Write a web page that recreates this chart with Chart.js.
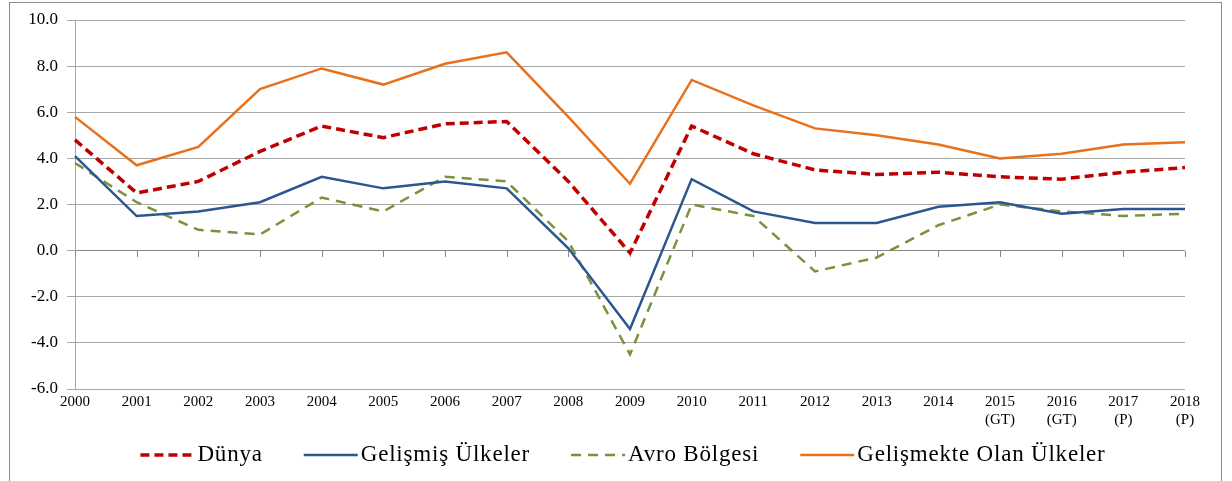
<!DOCTYPE html>
<html>
<head>
<meta charset="utf-8">
<script src="https://cdn.jsdelivr.net/npm/chart.js@4"></script>
<style>
  html, body { margin: 0; padding: 0; background: #fff; }
  #wrap { position: relative; width: 1232px; height: 481px; }
  #frame { position: absolute; left: 9px; top: 2px; width: 1211px; height: 490px; border: 1px solid #8c8c8c; pointer-events: none; }
</style>
</head>
<body>
<div id="wrap">
  <canvas id="myChart" width="1232" height="481"></canvas>
  <div id="frame"></div>
</div>
<script>
  // categories
  const years = ['2000', '2001', '2002', '2003', '2004', '2005', '2006', '2007', '2008', '2009',
    '2010', '2011', '2012', '2013', '2014', ['2015', '(GT)'], ['2016', '(GT)'], ['2017', '(P)'], ['2018', '(P)']];

  // series
  const dunya = [4.8, 2.5, 3.0, 4.3, 5.4, 4.9, 5.5, 5.6, 3.0, -0.1, 5.4, 4.2, 3.5, 3.3, 3.4, 3.2, 3.1, 3.4, 3.6];
  const gelismis = [4.1, 1.5, 1.7, 2.1, 3.2, 2.7, 3.0, 2.7, 0.1, -3.4, 3.1, 1.7, 1.2, 1.2, 1.9, 2.1, 1.6, 1.8, 1.8];
  const avro = [3.8, 2.1, 0.9, 0.7, 2.3, 1.7, 3.2, 3.0, 0.4, -4.5, 2.0, 1.5, -0.9, -0.3, 1.1, 2.0, 1.7, 1.5, 1.6];
  const gelismekte = [5.8, 3.7, 4.5, 7.0, 7.9, 7.2, 8.1, 8.6, 5.8, 2.9, 7.4, 6.3, 5.3, 5.0, 4.6, 4.0, 4.2, 4.6, 4.7];

  // y ticks
  const yTicks = [-6, -4, -2, 0, 2, 4, 6, 8, 10];

  const serif = "'Liberation Serif', 'Times New Roman', serif";

  // small tick marks on the zero line
  const zeroTicks = {
    id: 'zeroTicks',
    beforeDatasetsDraw(chart) {
      const ctx = chart.ctx;
      const x = chart.scales.x;
      const y0 = Math.round(chart.scales.y.getPixelForValue(0));
      ctx.save();
      ctx.strokeStyle = '#868686';
      ctx.lineWidth = 1;
      ctx.beginPath();
      for (let i = 0; i < years.length; i++) {
        const px = Math.round(x.getPixelForTick(i)) + 0.5;
        ctx.moveTo(px, y0);
        ctx.lineTo(px, y0 + 6);
      }
      ctx.stroke();
      ctx.restore();
    }
  };

  // legend drawn by hand so the dashes show in the samples
  const lineLegend = {
    id: 'lineLegend',
    afterDraw(chart) {
      const ctx = chart.ctx;
      const sets = chart.data.datasets;
      const sample = 54, gap = 3, spacing = 41, cy = 455;
      ctx.save();
      ctx.font = '23px ' + serif;
      ctx.letterSpacing = '0.8px';
      const widths = sets.map(d => sample + gap + ctx.measureText(d.label).width);
      const total = widths.reduce((a, b) => a + b, 0) + spacing * (sets.length - 1);
      let x = chart.width / 2 + 7 - total / 2;
      sets.forEach((d, i) => {
        ctx.strokeStyle = d.borderColor;
        ctx.lineWidth = d.borderWidth;
        ctx.setLineDash(d.borderDash || []);
        ctx.beginPath();
        ctx.moveTo(x, cy);
        ctx.lineTo(x + sample, cy);
        ctx.stroke();
        ctx.setLineDash([]);
        ctx.fillStyle = '#000';
        ctx.textBaseline = 'middle';
        ctx.fillText(d.label, x + sample + gap, cy);
        x += widths[i] + spacing;
      });
      ctx.restore();
    }
  };

  const data = {
    labels: years,
    datasets: [
      {
        label: 'Dünya',
        data: dunya,
        borderColor: '#C00000',
        backgroundColor: '#C00000',
        borderWidth: 3.5,
        borderDash: [9, 5],
      },
      {
        label: 'Gelişmiş Ülkeler',
        data: gelismis,
        borderColor: '#2B5690',
        backgroundColor: '#2B5690',
        borderWidth: 2.5,
      },
      {
        label: 'Avro Bölgesi',
        data: avro,
        borderColor: '#77933C',
        backgroundColor: '#77933C',
        borderWidth: 2.5,
        borderDash: [10, 7],
      },
      {
        label: 'Gelişmekte Olan Ülkeler',
        data: gelismekte,
        borderColor: '#E8711C',
        backgroundColor: '#E8711C',
        borderWidth: 2.5,
      }
    ]
  };

  new Chart(document.getElementById('myChart'), {
    type: 'line',
    data,
    plugins: [zeroTicks, lineLegend],
    options: {
      responsive: false,
      animation: false,
      layout: { padding: { top: 20, left: 0, right: 47, bottom: 48 } },
      elements: {
        point: { radius: 0 },
        line: { tension: 0 }
      },
      scales: {
        x: {
          offset: false,
          grid: { display: false, drawTicks: false },
          border: { display: false },
          ticks: {
            color: '#000',
            font: { family: serif, size: 15 },
            maxRotation: 0,
            autoSkip: false,
            padding: 4
          }
        },
        y: {
          min: -6,
          max: 10,
          afterBuildTicks(scale) {
            scale.ticks = yTicks.map(v => ({ value: v }));
          },
          afterFit(scale) {
            scale.width = 75;
          },
          grid: {
            color: ctx => ctx.tick.value === 0 ? '#868686' : '#a6a6a6',
            tickColor: '#a6a6a6',
            tickLength: 8,
            lineWidth: 1
          },
          border: { display: true, color: '#a6a6a6' },
          ticks: {
            color: '#000',
            font: { family: serif, size: 17 },
            padding: 9,
            callback: v => v.toFixed(1)
          }
        }
      },
      plugins: {
        tooltip: { enabled: false },
        legend: { display: false }
      }
    }
  });
</script>
</body>
</html>
